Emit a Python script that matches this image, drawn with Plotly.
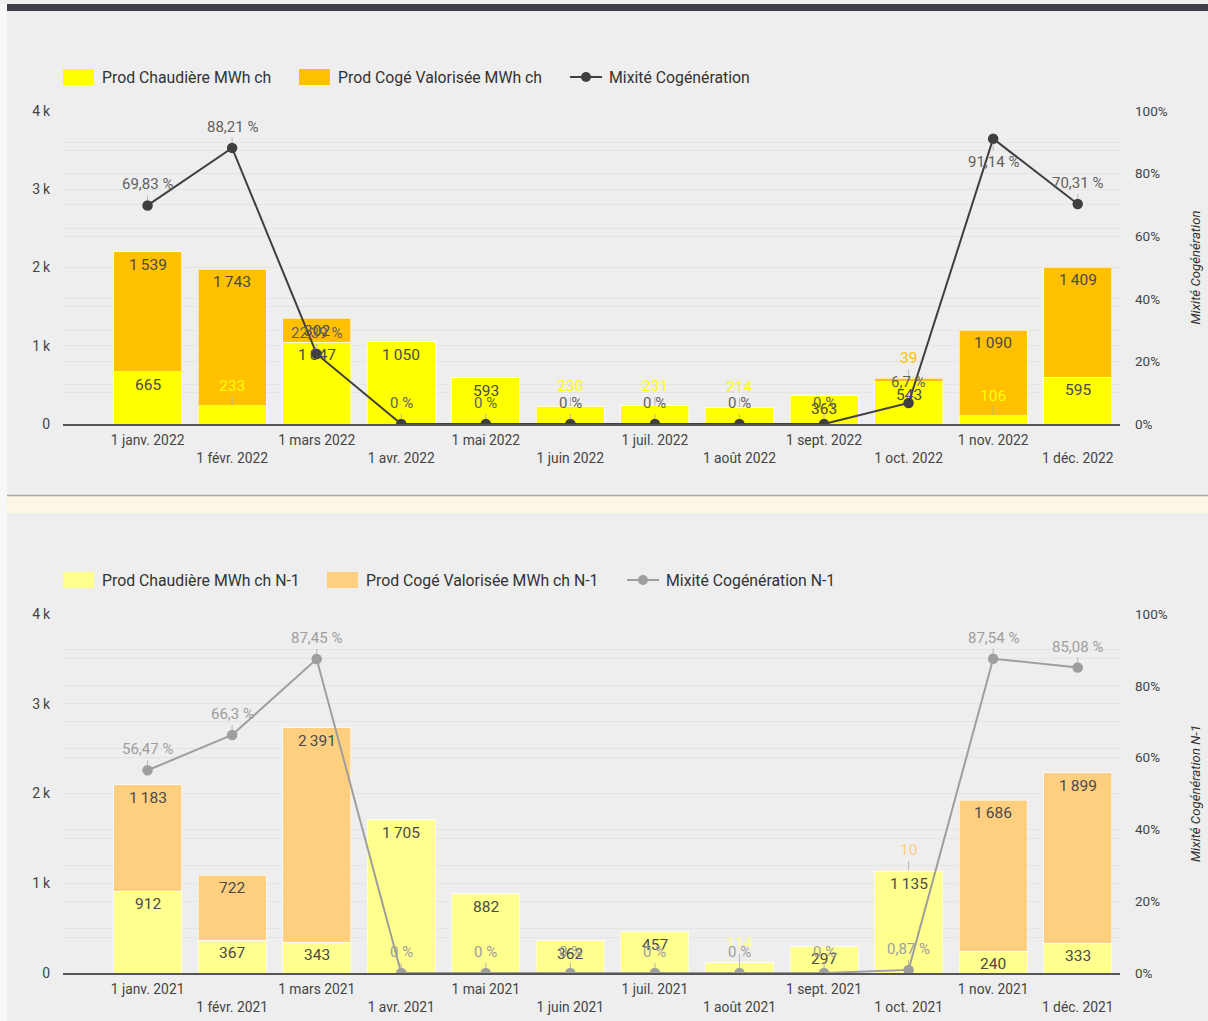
import plotly.graph_objects as go

# ---- data -------------------------------------------------------------
months_2022 = ["1 janv. 2022", "1 févr. 2022", "1 mars 2022", "1 avr. 2022",
               "1 mai 2022", "1 juin 2022", "1 juil. 2022", "1 août 2022",
               "1 sept. 2022", "1 oct. 2022", "1 nov. 2022", "1 déc. 2022"]
chaudiere_2022 = [665, 233, 1047, 1050, 593, 230, 231, 214, 363, 543, 106, 595]
coge_2022 = [1539, 1743, 302, 0, 0, 0, 0, 0, 0, 39, 1090, 1409]
mixite_2022 = [69.83, 88.21, 22.39, 0, 0, 0, 0, 0, 0, 6.7, 91.14, 70.31]

months_2021 = ["1 janv. 2021", "1 févr. 2021", "1 mars 2021", "1 avr. 2021",
               "1 mai 2021", "1 juin 2021", "1 juil. 2021", "1 août 2021",
               "1 sept. 2021", "1 oct. 2021", "1 nov. 2021", "1 déc. 2021"]
chaudiere_2021 = [912, 367, 343, 1705, 882, 362, 457, 114, 297, 1135, 240, 333]
coge_2021 = [1183, 722, 2391, 0, 0, 0, 0, 0, 0, 10, 1686, 1899]
mixite_2021 = [56.47, 66.3, 87.45, 0, 0, 0, 0, 0, 0, 0.87, 87.54, 85.08]

left_ticks = [0, 1000, 2000, 3000, 4000]
left_tick_text = ["0", "1\u2009k", "2\u2009k", "3\u2009k", "4\u2009k"]
right_ticks = [0, 20, 40, 60, 80, 100]
right_tick_text = ["0%", "20%", "40%", "60%", "80%", "100%"]

# ---- page geometry ----------------------------------------------------
W, H = 1208, 1021
PLOT_L, PLOT_R = 63, 1120
TOP_PANEL = (111, 424)      # pixel rows of 4k / 0 for the 2022 chart
BOT_PANEL = (614, 973)      # pixel rows of 4k / 0 for the 2021 chart
Y_MAX = 4000

FONT = "Roboto, Arial, sans-serif"
BG = "#eeeeee"
GRID = "#e4e4e4"
INSIDE_TXT = "#4a4a4a"

COL_CH = "#ffff00"
COL_CO = "#ffc000"
COL_LN = "#3f3f3f"
COL_CH1 = "#ffff8d"
COL_CO1 = "#ffcf80"
COL_LN1 = "#9e9e9e"


def py(p):
    return 1 - p / H


def px(p):
    return p / W


def fmt_int(v):
    return f"{v:,}".replace(",", "\u2009")


def fmt_pct(v):
    s = f"{v:.2f}".rstrip("0").rstrip(".")
    return s.replace(".", ",") + " %"


def alt_ticks(cats):
    return [c if i % 2 == 0 else "<br>" + c for i, c in enumerate(cats)]


def bar_labels(cats, bottoms, heights, out_color, xref, yref, px_per_unit):
    anns = []
    for c, b, h in zip(cats, bottoms, heights):
        if h == 0:
            continue
        top = b + h
        if h * px_per_unit >= 20:
            anns.append(dict(x=c, y=top, xref=xref, yref=yref, text=fmt_int(h),
                             showarrow=False, yanchor="top", yshift=-2,
                             font=dict(family=FONT, size=15.5, color=INSIDE_TXT)))
        else:
            anns.append(dict(x=c, y=top, xref=xref, yref=yref, text=fmt_int(h),
                             showarrow=True, arrowhead=0, arrowwidth=1,
                             arrowcolor="#b5b5b5", ax=0, ay=-9,
                             yanchor="bottom",
                             font=dict(family=FONT, size=15.5, color=out_color)))
    return anns


def line_labels(cats, vals, color, xref, yref, panel_px):
    anns = []
    for c, v in zip(cats, vals):
        room = (100 - v) / 100 * panel_px
        below = room < 32
        anns.append(dict(x=c, y=v, xref=xref, yref=yref, text=fmt_pct(v),
                         showarrow=True, arrowhead=0, arrowwidth=1,
                         arrowcolor="#b5b5b5", ax=0, ay=12 if below else -10,
                         standoff=5, yanchor="top" if below else "bottom",
                         font=dict(family=FONT, size=15, color=color)))
    return anns


fig = go.Figure()

# ---- 2022 chart -------------------------------------------------------
bar_edge = dict(color="rgba(255,255,255,0.6)", width=1)
fig.add_trace(go.Bar(x=months_2022, y=chaudiere_2022, name="Prod Chaudière MWh ch",
                     marker=dict(color=COL_CH, line=bar_edge),
                     xaxis="x", yaxis="y", hoverinfo="skip"))
fig.add_trace(go.Bar(x=months_2022, y=coge_2022, name="Prod Cogé Valorisée MWh ch",
                     marker=dict(color=COL_CO, line=bar_edge),
                     xaxis="x", yaxis="y", hoverinfo="skip"))
fig.add_trace(go.Scatter(x=months_2022, y=mixite_2022, name="Mixité Cogénération",
                         mode="lines+markers", line=dict(color=COL_LN, width=2),
                         marker=dict(color=COL_LN, size=10.5),
                         xaxis="x", yaxis="y2", hoverinfo="skip"))

# ---- 2021 chart -------------------------------------------------------
fig.add_trace(go.Bar(x=months_2021, y=chaudiere_2021, name="Prod Chaudière MWh ch N-1",
                     marker=dict(color=COL_CH1, line=bar_edge),
                     xaxis="x2", yaxis="y3", hoverinfo="skip"))
fig.add_trace(go.Bar(x=months_2021, y=coge_2021, name="Prod Cogé Valorisée MWh ch N-1",
                     marker=dict(color=COL_CO1, line=bar_edge),
                     xaxis="x2", yaxis="y3", hoverinfo="skip"))
fig.add_trace(go.Scatter(x=months_2021, y=mixite_2021, name="Mixité Cogénération N-1",
                         mode="lines+markers", line=dict(color=COL_LN1, width=2),
                         marker=dict(color=COL_LN1, size=10.5),
                         xaxis="x2", yaxis="y4", hoverinfo="skip"))

# ---- value labels -----------------------------------------------------
top_h = TOP_PANEL[1] - TOP_PANEL[0]
bot_h = BOT_PANEL[1] - BOT_PANEL[0]
anns = []
anns += bar_labels(months_2022, [0] * 12, chaudiere_2022, COL_CH, "x", "y", top_h / Y_MAX)
anns += bar_labels(months_2022, chaudiere_2022, coge_2022, COL_CO, "x", "y", top_h / Y_MAX)
anns += line_labels(months_2022, mixite_2022, "#616161", "x", "y2", top_h)
anns += bar_labels(months_2021, [0] * 12, chaudiere_2021, COL_CH1, "x2", "y3", bot_h / Y_MAX)
anns += bar_labels(months_2021, chaudiere_2021, coge_2021, COL_CO1, "x2", "y3", bot_h / Y_MAX)
anns += line_labels(months_2021, mixite_2021, "#9e9e9e", "x2", "y4", bot_h)

# ---- legends (drawn as swatches + text, one row per chart) ------------
shapes = []
LEG_FONT = dict(family=FONT, size=15.8, color="#333333")


def legend_row(y_px, items):
    """items: (kind, colour, label, swatch_left_px)"""
    for kind, colour, label, x0 in items:
        if kind == "bar":
            shapes.append(dict(type="rect", xref="paper", yref="paper",
                               x0=px(x0), x1=px(x0 + 31), y0=py(y_px + 8), y1=py(y_px - 8),
                               fillcolor=colour, line=dict(width=0)))
        else:
            shapes.append(dict(type="line", xref="paper", yref="paper",
                               x0=px(x0), x1=px(x0 + 32), y0=py(y_px), y1=py(y_px),
                               line=dict(color=colour, width=2)))
            shapes.append(dict(type="circle", xref="paper", yref="paper",
                               x0=px(x0 + 11), x1=px(x0 + 21), y0=py(y_px + 5), y1=py(y_px - 5),
                               fillcolor=colour, line=dict(width=0)))
        anns.append(dict(x=px(x0 + 37), y=py(y_px), xref="paper", yref="paper",
                         text=label, showarrow=False, xanchor="left", yanchor="middle",
                         font=LEG_FONT))


legend_row(77, [("bar", COL_CH, "Prod Chaudière MWh ch", 63),
                ("bar", COL_CO, "Prod Cogé Valorisée MWh ch", 299),
                ("line", COL_LN, "Mixité Cogénération", 570)])
legend_row(580, [("bar", COL_CH1, "Prod Chaudière MWh ch N-1", 63),
                 ("bar", COL_CO1, "Prod Cogé Valorisée MWh ch N-1", 327),
                 ("line", COL_LN1, "Mixité Cogénération N-1", 627)])

# ---- axes -------------------------------------------------------------
x_dom = [px(PLOT_L), px(PLOT_R)]
tick_font = dict(family=FONT, size=13.8, color="#444444")


def x_axis(cats, anchor):
    return dict(domain=x_dom, anchor=anchor, type="category",
                categoryorder="array", categoryarray=cats,
                tickvals=cats, ticktext=alt_ticks(cats), range=[-1, 11.5],
                showline=True, linecolor="#555555", linewidth=2,
                showgrid=False, zeroline=False, ticks="", tickfont=tick_font,
                ticklabelstandoff=2, fixedrange=True, automargin=False)


def y_left(panel, anchor):
    return dict(domain=[py(panel[1]), py(panel[0])], anchor=anchor,
                range=[0, Y_MAX], tickvals=left_ticks, ticktext=left_tick_text,
                showgrid=True, gridcolor=GRID, gridwidth=1, zeroline=False,
                minor=dict(dtick=500, showgrid=True, gridcolor=GRID, gridwidth=1),
                tickfont=dict(family=FONT, size=14, color="#444444"),
                ticklabelstandoff=12, automargin=False, fixedrange=True)


def y_right(title, overlay, anchor):
    return dict(overlaying=overlay, anchor=anchor, side="right",
                range=[0, 100], tickvals=right_ticks, ticktext=right_tick_text,
                showgrid=True, gridcolor=GRID, gridwidth=1, zeroline=False,
                minor=dict(dtick=10, showgrid=True, gridcolor=GRID, gridwidth=1),
                tickfont=dict(family=FONT, size=13.5, color="#444444"),
                ticklabelstandoff=14, automargin=False, fixedrange=True,
                title=dict(text=title, standoff=23,
                           font=dict(family=FONT, size=13.2, color="#333333", style="italic")))


# ---- page decoration --------------------------------------------------
shapes += [
    dict(type="rect", xref="paper", yref="paper", x0=0, x1=1, y0=py(4), y1=py(11),
         fillcolor="#3c4046", line=dict(width=0), layer="below"),
    dict(type="rect", xref="paper", yref="paper", x0=0, x1=px(7), y0=0, y1=py(4),
         fillcolor="#f8f8f8", line=dict(width=0), layer="below"),
    dict(type="rect", xref="paper", yref="paper", x0=px(7), x1=1, y0=py(513), y1=py(496),
         fillcolor="#fdf6e4", line=dict(width=0), layer="below"),
    dict(type="line", xref="paper", yref="paper", x0=px(7), x1=1, y0=py(495.5), y1=py(495.5),
         line=dict(color="#a9a9a9", width=1.5), layer="below"),
]

fig.update_layout(
    width=W, height=H,
    margin=dict(l=0, r=0, t=0, b=0),
    paper_bgcolor=BG, plot_bgcolor=BG,
    barmode="stack", bargap=0.195,
    showlegend=False,
    xaxis=x_axis(months_2022, "y"),
    yaxis=y_left(TOP_PANEL, "x"),
    yaxis2=y_right("Mixité Cogénération", "y", "x"),
    xaxis2=x_axis(months_2021, "y3"),
    yaxis3=y_left(BOT_PANEL, "x2"),
    yaxis4=y_right("Mixité Cogénération N-1", "y3", "x2"),
    annotations=anns,
    shapes=shapes,
    font=dict(family=FONT),
)

fig.write_html("out.html")
